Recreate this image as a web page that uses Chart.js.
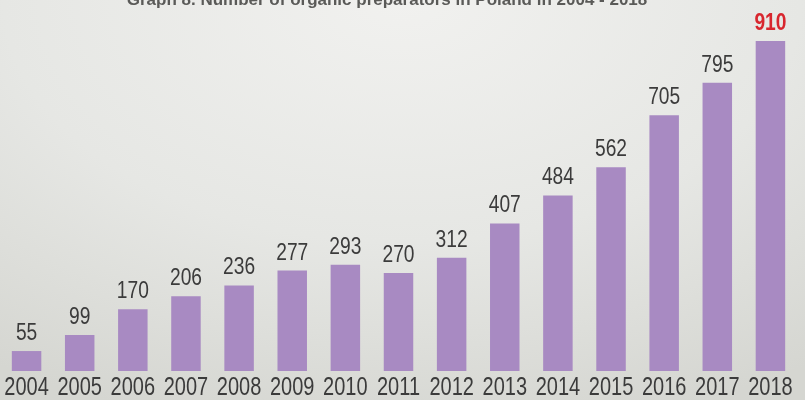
<!DOCTYPE html>
<html>
<head>
<meta charset="utf-8">
<script src="https://cdn.jsdelivr.net/npm/chart.js@4.4.1/dist/chart.umd.min.js"></script>
<style>
  html, body {
    margin: 0;
    padding: 0;
  }
  body {
    width: 805px;
    height: 400px;
    overflow: hidden;
    background: radial-gradient(ellipse 90% 110% at 50% 0%, #f1f1ef 0%, #e6e7e4 55%, #d5d6d1 100%);
  }
  .chart-box {
    position: relative;
    width: 805px;
    height: 400px;
  }
</style>
</head>
<body>
<div class="chart-box">
  <canvas id="preparatorsChart"></canvas>
</div>
<script>
  const years = ["2004", "2005", "2006", "2007", "2008", "2009", "2010", "2011",
    "2012", "2013", "2014", "2015", "2016", "2017", "2018"];
  const preparators = [55, 99, 170, 206, 236, 277, 293, 270, 312, 407, 484, 562, 705, 795, 910];
  const chartTitle = "Graph 8. Number of organic preparators in Poland in 2004 - 2018";

  const FONT = "'Liberation Sans', Arial, sans-serif";

  // narrow text: squeeze horizontally around the anchor x
  function narrowText(ctx, text, x, y, squeeze) {
    ctx.save();
    ctx.translate(x, y);
    ctx.scale(squeeze, 1);
    ctx.fillText(text, 0, 0);
    ctx.restore();
  }

  // title sits at the very top edge, only its lower half shows
  const topTitle = {
    id: "topTitle",
    afterDraw(chart) {
      const ctx = chart.ctx;
      ctx.save();
      ctx.font = "bold 17px " + FONT;
      ctx.fillStyle = "#5a5a58";
      ctx.textAlign = "center";
      ctx.textBaseline = "alphabetic";
      narrowText(ctx, chartTitle, 387, 5, 1);
      ctx.restore();
    },
  };

  // numbers above each bar (last year in red) and year labels under the bars
  const barLabels = {
    id: "barLabels",
    afterDatasetsDraw(chart) {
      const ctx = chart.ctx;
      const meta = chart.getDatasetMeta(0);
      const data = chart.data.datasets[0].data;
      const xScale = chart.scales.x;
      ctx.save();
      ctx.textAlign = "center";
      ctx.textBaseline = "alphabetic";
      meta.data.forEach((bar, i) => {
        const last = i === data.length - 1;
        ctx.font = (last ? "bold " : "") + "24px " + FONT;
        ctx.fillStyle = last ? "#d8262e" : "#3b3b3b";
        narrowText(ctx, String(data[i]), bar.x, bar.y - 11, 0.8);
      });
      ctx.font = "25px " + FONT;
      ctx.fillStyle = "#3b3b3b";
      chart.data.labels.forEach((year, i) => {
        narrowText(ctx, year, xScale.getPixelForValue(i), 395, 0.8);
      });
      ctx.restore();
    },
  };

  const ctx = document.getElementById("preparatorsChart").getContext("2d");
  new Chart(ctx, {
    type: "bar",
    data: {
      labels: years,
      datasets: [
        {
          label: "Organic preparators",
          data: preparators,
          backgroundColor: "#a88ac2",
          borderWidth: 0,
          categoryPercentage: 1,
          barPercentage: 0.555,
        },
      ],
    },
    options: {
      responsive: true,
      maintainAspectRatio: false,
      animation: false,
      layout: {
        padding: { top: 0, left: -2, right: 8, bottom: 29 },
      },
      plugins: {
        legend: { display: false },
        tooltip: { enabled: false },
        title: { display: false },
      },
      scales: {
        x: {
          display: false,
          offset: true,
        },
        y: {
          display: false,
          min: 0,
          max: 1023,
        },
      },
    },
    plugins: [topTitle, barLabels],
  });
</script>
</body>
</html>
